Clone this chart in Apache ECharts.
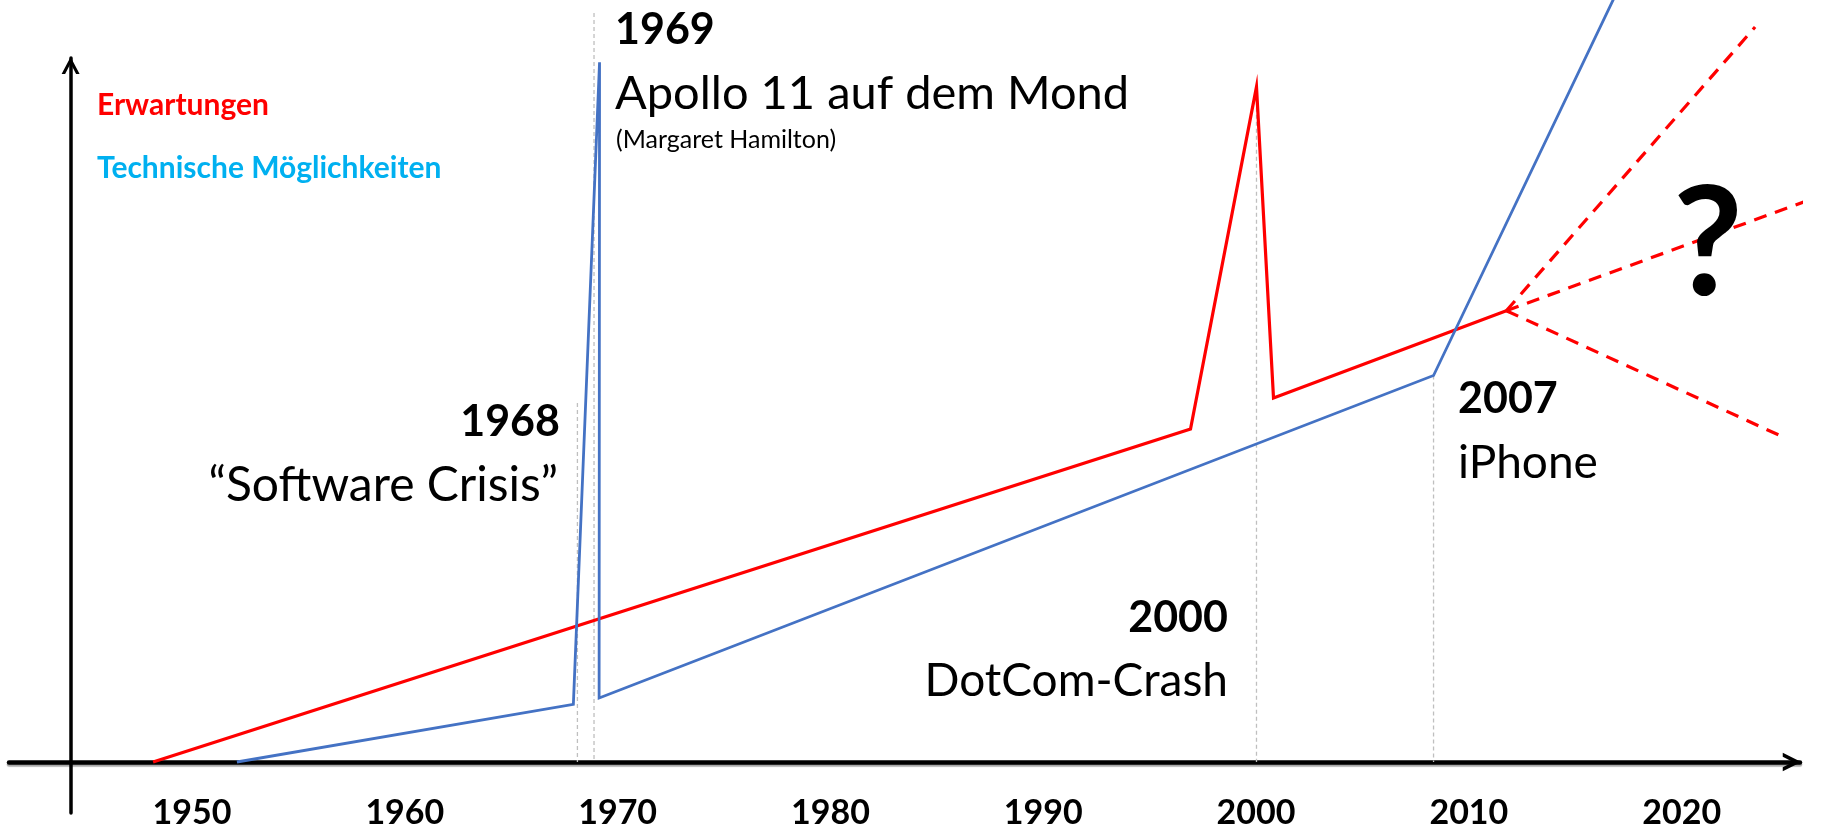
<!DOCTYPE html>
<html><head><meta charset="utf-8">
<script src="https://cdn.jsdelivr.net/npm/echarts@6/dist/echarts.min.js"></script>
<style>html,body{margin:0;padding:0;background:#fff}#c{width:1845px;height:832px}</style>
</head><body><div id="c"></div>
<script>
// ---- data ----
const tickYears = [1950, 1960, 1970, 1980, 1990, 2000, 2010, 2020];
const expectYears  = [1948.17, 1996.92, 2000.02, 2000.82, 2011.76];
const expectValues = [0, 47.3, 95.9, 51.7, 64.1];
const techYears  = [1952.11, 1967.92, 1969.15, 1969.13, 2008.34, 2017.23];
const techValues = [0, 8.2, 99.4, 9.1, 54.9, 111.1];
const futureYears  = [2023.45, 2027.68, 2024.67];
const futureValues = [104.4, 81.7, 46.3];
const guideYears = [1968.11, 1968.89, 2000.02, 2008.34];
const guideTops  = [51.0, 106.4, 95.9, 54.9];
const legendNames = ['Erwartungen', 'Technische Möglichkeiten'];

const FONT = 'Lato, "Open Sans", sans-serif';
const RED = '#FF0000', BLUE = '#4472C4', CYAN = '#00B0F0';

const zip = (xs, ys) => xs.map((x, i) => [x, ys[i]]);
const series = [];

guideYears.forEach((yr, i) => {
  series.push({
    type: 'line', silent: true, clip: false, symbol: 'none', z: 1,
    data: [[yr, guideTops[i]], [yr, 0]],
    lineStyle: { color: '#BFBFBF', width: 1.3, type: [4, 3] }
  });
});
series.push({
  name: legendNames[0], type: 'line', clip: false, symbol: 'none', z: 3,
  data: zip(expectYears, expectValues),
  lineStyle: { color: RED, width: 3.2, join: 'miter' }
});
futureYears.forEach((yr, i) => {
  series.push({
    type: 'line', clip: false, symbol: 'none', z: 3,
    data: [[expectYears[expectYears.length - 1], expectValues[expectValues.length - 1]], [yr, futureValues[i]]],
    lineStyle: { color: RED, width: 3.2, type: [13, 9] }
  });
});
series.push({
  name: legendNames[1], type: 'line', clip: false, symbol: 'none', z: 4,
  data: zip(techYears, techValues),
  lineStyle: { color: BLUE, width: 2.8, join: 'miter' }
});

function txt(x, y, text, size, weight, color, align) {
  return { type: 'text', x: x, y: y, z: 10, silent: true,
    style: { text: text, fill: color, font: weight + ' ' + size + 'px ' + FONT,
             align: align || 'left', verticalAlign: 'middle' } };
}

const chart = echarts.init(document.getElementById('c'), null, { renderer: 'canvas' });
chart.setOption({
  animation: false,
  backgroundColor: '#fff',
  grid: { left: 9, right: 45, top: 58, bottom: 19, containLabel: false, outerBoundsMode: 'none' },
  xAxis: {
    type: 'value', min: 1941.40, max: 2025.56,
    splitLine: { show: false },
    axisTick: { show: false },
    axisLine: {
      show: true, onZero: true,
      lineStyle: { color: '#000', width: 4.5, shadowColor: 'rgba(0,0,0,0.35)', shadowOffsetY: 2, shadowBlur: 1 },
      symbol: ['none', 'path://M0,18 L9,0 L18,18 L14,18 L9,8 L4,18 Z'],
      symbolSize: [18.5, 18.5], symbolOffset: [0, -8]
    },
    axisLabel: {
      customValues: tickYears, margin: 0, lineHeight: 34, verticalAlign: 'middle',
      formatter: v => String(Math.round(v)),
      color: '#000', fontFamily: FONT, fontWeight: 'bold', fontSize: 34
    }
  },
  yAxis: {
    type: 'value', min: -7.244, max: 100, offset: -61.6,
    splitLine: { show: false }, axisTick: { show: false }, axisLabel: { show: false },
    axisLine: {
      show: true, onZero: false,
      lineStyle: { color: '#000', width: 3.5 },
      symbol: ['none', 'path://M0,17 L9,0 L18,17 L14.5,17 L9,6.5 L3.5,17 Z'],
      symbolSize: [18, 17], symbolOffset: [0, -7.5]
    }
  },
  series: series,
  graphic: [
    txt(97, 105, legendNames[0], 30, 'bold', RED),
    txt(97, 168, legendNames[1], 30, 'bold', CYAN),
    txt(615, 30, '1969', 43, 'bold', '#000'),
    txt(615, 94, 'Apollo 11 auf dem Mond', 47, 'normal', '#000'),
    txt(616, 140, '(Margaret Hamilton)', 25, 'normal', '#000'),
    txt(560, 422, '1968', 43, 'bold', '#000', 'right'),
    txt(558, 486, '\u201CSoftware Crisis\u201D', 48, 'normal', '#000', 'right'),
    txt(1228, 618, '2000', 43, 'bold', '#000', 'right'),
    txt(1228, 681, 'DotCom-Crash', 46, 'normal', '#000', 'right'),
    txt(1458, 399, '2007', 43, 'bold', '#000'),
    txt(1458, 463, 'iPhone', 46, 'normal', '#000'),
    txt(1708, 246, '?', 152, 'bold', '#000', 'center')
  ]
});
</script></body></html>
